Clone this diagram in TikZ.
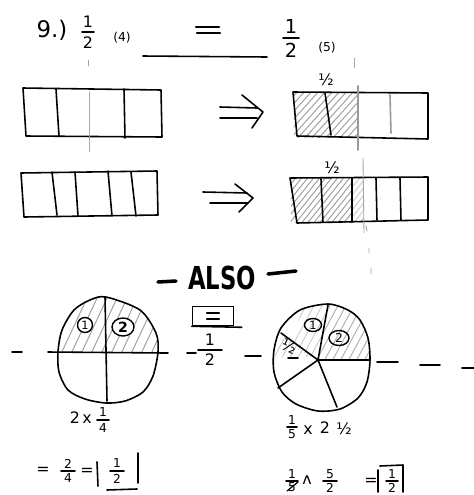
\documentclass[tikz,border=0pt]{standalone}
\usepackage{fontspec}
\setmainfont{DejaVu Sans}
\usetikzlibrary{shapes.geometric}
\newcommand\hfr[8]{%
  \node[#8] (#1n) at (#2,#3-#7) {#4};
  \node[#8] (#1d) at (#2,#3+#7) {#5};
  \draw[pen] (#2-#6,#3) -- (#2+#6,#3);}
\begin{document}
\begin{tikzpicture}[x=0.02cm,y=-0.02cm,
  pen/.style={line width=0.9pt, line cap=round, line join=round},
  faint/.style={line width=0.5pt, gray!70, line cap=round},
  hatch/.style={line width=0.55pt, gray!75},
  lhatch/.style={line width=0.45pt, gray!45},
  txt/.style={inner sep=0pt, font=\fontsize{9}{9}\selectfont},
  mid/.style={inner sep=0pt, font=\fontsize{11}{11}\selectfont},
  big/.style={inner sep=0pt, font=\fontsize{13}{13}\selectfont},
  sm/.style={inner sep=0pt, font=\fontsize{7}{7}\selectfont}]
\fill[white] (0,0) rectangle (474,495);
\useasboundingbox (0,0) rectangle (474,495);

% ---------- title row ----------
\node[big] (q) at (52,30) {9.)};
\hfr{ta}{88}{32}{1}{2}{6}{10.5}{txt}
\node[sm] (t4) at (122,38) {(4)};
\draw[pen, line width=1.3pt] (196,27) -- (219,27) (197,33) -- (220,33);
\draw[pen] (143,56) -- (267,57);
\hfr{tb}{291}{38}{1}{2}{8}{12}{mid}
\node[sm] (t5) at (327,48) {(5)};
\draw[faint] (88,60) -- (88,66) (354,58) -- (354,68);

% ---------- rectangle row 1 ----------
\draw[pen] (23,88) -- (161,90) -- (162,137) -- (26,136) -- cycle;
\draw[pen] (56,89) -- (59,136) (124,89) -- (125,138);
\draw[faint] (89,92) -- (89,152);
\draw[pen] (220,107) -- (257,108) (220,118) -- (257,118);
\draw[pen] (242,95) -- (263,112) -- (252,128);
\begin{scope}
  \clip (294,93) rectangle (358,137);
  \foreach \h in {240,247,...,380} \draw[hatch] (\h,140) -- (\h+45,90);
\end{scope}
\draw[pen] (293,92) -- (428,93) -- (428,139) -- (297,136) -- cycle;
\draw[pen] (325,93) -- (331,135);
\draw[pen, gray!80] (358,86) -- (358,150);
\draw[pen, gray!80] (390,95) -- (391,133);
\node[txt] (h1) at (326,80) {½};

% ---------- rectangle row 2 ----------
\draw[pen] (21,173) -- (157,171) -- (158,215) -- (24,217) -- cycle;
\draw[pen] (52,172) -- (57,215) (75,172) -- (78,216) (108,171) -- (112,216) (131,172) -- (136,216);
\draw[pen] (203,192) -- (247,193) (210,203) -- (248,203);
\draw[pen] (235,184) -- (253,198) -- (239,212);
\begin{scope}
  \clip (291,178) rectangle (352,222);
  \foreach \h in {240,246,...,380} \draw[hatch] (\h,225) -- (\h+40,175);
\end{scope}
\begin{scope}
  \clip (352,178) rectangle (364,222);
  \foreach \h in {310,316,...,380} \draw[lhatch] (\h,225) -- (\h+40,175);
\end{scope}
\draw[pen] (290,178) -- (428,177) -- (428,220) -- (297,223) -- cycle;
\draw[pen] (321,179) -- (323,222) (352,178) -- (352,222) (376,178) -- (377,220) (400,178) -- (401,220);
\draw[faint] (363,158) -- (364,233);
\node[txt] (h2) at (332,168) {½};
\draw[faint] (366,226) -- (367,231) (369,248) -- (369,253) (371,268) -- (371,274);

% ---------- ALSO ----------
\draw[pen, line width=2pt] (158,282) -- (176,281) (268,274) -- (296,271);
\node[inner sep=0pt, xscale=0.72, font=\fontsize{18}{18}\selectfont\bfseries] (also) at (222,278) {ALSO};
\node[draw, line width=0.9pt, inner sep=0pt,
      minimum width=0.82cm, minimum height=0.38cm] (eqbox) at (213,316) {};
\draw[pen, line width=1.2pt] (207,313) -- (219,313) (207,319) -- (219,319);
\draw[pen] (eqbox.south west) -- ++(50,1);
\hfr{mh}{210}{350}{1}{2}{12}{10}{txt}

% ---------- dashed line ----------
\draw[pen] (12,352) -- (22,352) (160,353) -- (168,353) (187,353) -- (196,353)
  (245,356) -- (261,356) (288,358) -- (298,358)
  (377,362) -- (398,362) (420,365) -- (440,365) (462,368) -- (474,368);

% ---------- left circle ----------
\begin{scope}
  \clip plot[smooth cycle] coordinates {(106,297) (140,310) (156,333) (158,352) (153,376)
     (143,392) (125,401) (106,403) (85,399) (68,390) (59,372) (58,352) (62,330) (74,310) (90,300)};
  \clip (0,0) rectangle (474,352);
  \foreach \h in {20,30,...,200} \draw[hatch] (\h,356) -- (\h+28,296);
\end{scope}
\draw[pen] plot[smooth cycle] coordinates {(106,297) (140,310) (156,333) (158,352) (153,376)
     (143,392) (125,401) (106,403) (85,399) (68,390) (59,372) (58,352) (62,330) (74,310) (90,300)};
\draw[pen] (105,297) -- (107,401);
\draw[pen] (48,352) -- (167,353);
\node[draw, circle, line width=0.8pt, inner sep=0pt, minimum size=0.3cm, fill=white,
      font=\fontsize{6.5}{6.5}\selectfont] (c1) at (85,325) {1};
\node[draw, ellipse, line width=0.8pt, inner sep=0pt, minimum width=0.44cm, minimum height=0.36cm,
      fill=white, font=\fontsize{8}{8}\selectfont\bfseries] (c2) at (123,327) {2};
\node[txt] (l2) at (75,418) {2};
\node[txt] (lx) at (87,419) {x};
\hfr{lq}{103}{420}{1}{4}{6}{8}{sm}
\node[txt] (le1) at (43,471) {=};
\hfr{lf}{68}{471}{2}{4}{7}{7.5}{sm}
\node[txt] (le2) at (87,472) {=};
\hfr{lh}{117}{471}{1}{2}{7}{7.5}{sm}
\draw[pen] (97,462) -- (98,486) (138,453) -- (138,483);
\draw[pen] (107,490) -- (137,489);

% ---------- right circle ----------
\coordinate (rc) at (318,360);
\coordinate (rtop) at (328,305);
\coordinate (rul) at (281,333);
\coordinate (rr) at (370,360);
\coordinate (rb) at (337,407);
\coordinate (rll) at (278,388);
\begin{scope}
  \clip plot[smooth cycle] coordinates {(328,304) (348,310) (360,320) (368,338) (370,360) (367,382)
     (358,398) (340,409) (318,411) (296,404) (282,392) (274,372) (274,350) (281,328) (300,310)};
  \begin{scope}
    \clip (rc) -- (328,300) -- (380,300) -- (380,360) -- cycle;
    \foreach \h in {250,258,...,400} \draw[hatch, gray!60] (\h,365) -- (\h+35,300);
  \end{scope}
  \begin{scope}
    \clip (rc) -- (328,300) -- (305,300) -- (290,345) -- cycle;
    \foreach \h in {250,258,...,400} \draw[lhatch] (\h,365) -- (\h+35,300);
  \end{scope}
  \begin{scope}
    \clip (rc) -- (rul) -- (270,333) -- (270,357) -- (318,357) -- cycle;
    \foreach \h in {230,238,...,400} \draw[lhatch] (\h,365) -- (\h+35,300);
  \end{scope}
\end{scope}
\draw[pen] plot[smooth cycle] coordinates {(328,304) (348,310) (360,320) (368,338) (370,360) (367,382)
     (358,398) (340,409) (318,411) (296,404) (282,392) (274,372) (274,350) (281,328) (300,310)};
\draw[pen] (rc) -- (rtop) (rc) -- (rul) (rc) -- (rr) (rc) -- (rb) (rc) -- (rll);
\node[draw, ellipse, line width=0.8pt, inner sep=0pt, minimum width=0.34cm, minimum height=0.26cm,
      font=\fontsize{6.5}{6.5}\selectfont] (d1) at (313,325) {1};
\node[draw, ellipse, line width=0.8pt, inner sep=0pt, minimum width=0.4cm, minimum height=0.3cm,
      font=\fontsize{7}{7}\selectfont] (d2) at (339,338) {2};
\node[txt, rotate=-25] (dh) at (289,347) {½};

\hfr{rf}{292}{427}{1}{5}{5}{7}{sm}
\node[txt] (rx) at (308,430) {x};
\node[txt] (r2) at (325,428) {2};
\node[txt] (rhalf) at (344,429) {½};

\hfr{rg}{292}{481}{1}{5}{6}{6.5}{sm}
\draw[pen, line width=0.7pt] (287,491) -- (298,482);
\node[txt] (rw) at (307,480) {ʌ};
\hfr{rk}{330}{481}{5}{2}{7}{6.5}{sm}
\node[txt] (re) at (371,482) {=};
\hfr{rm}{392}{481}{1}{2}{6}{6.5}{sm}
\draw[pen] (378,470) -- (378,492) (380,466) -- (403,465) -- (403,492);
\end{tikzpicture}
\end{document}
